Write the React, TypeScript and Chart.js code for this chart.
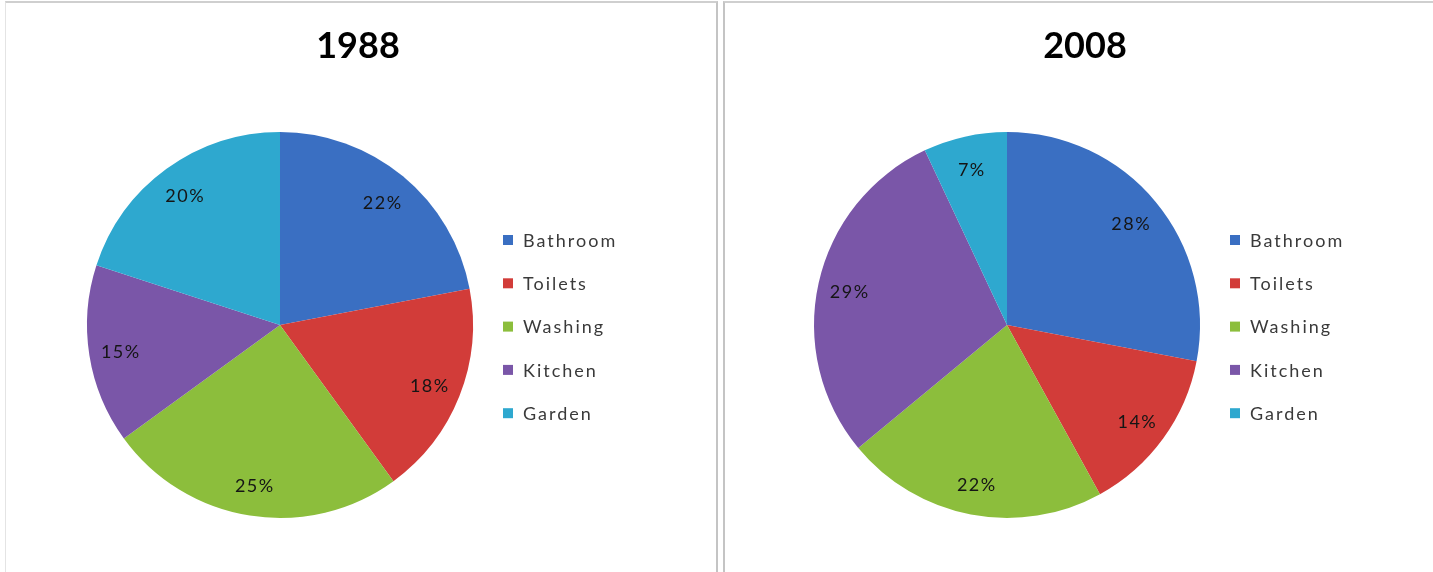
import React, { useEffect, useRef } from "react";
import { Chart, registerables } from "chart.js";

Chart.register(...registerables);

const categories = ["Bathroom", "Toilets", "Washing", "Kitchen", "Garden"];
const values1988 = [22, 18, 25, 15, 20];
const values2008 = [28, 14, 22, 29, 7];
const titles = ["1988", "2008"];
const colors = ["#3A6FC2", "#D23C39", "#8CBE3C", "#7A56A8", "#2EA8CF"];

const FONT = "Lato, 'Open Sans', sans-serif";

const overlayPlugin = {
  id: "overlay",
  afterDatasetsDraw(chart: any, _args: any, opts: any) {
    const ctx = chart.ctx;
    const meta = chart.getDatasetMeta(0);
    const data = chart.data.datasets[0].data as number[];
    ctx.save();
    // percentage labels
    ctx.font = `18px ${FONT}`;
    (ctx as any).letterSpacing = "1.5px";
    ctx.fillStyle = "#151515";
    ctx.textAlign = "center";
    ctx.textBaseline = "middle";
    meta.data.forEach((arc: any, i: number) => {
      const p = arc.getProps(["x", "y", "startAngle", "endAngle", "outerRadius"], true);
      const mid = (p.startAngle + p.endAngle) / 2;
      const r = p.outerRadius * 0.835;
      ctx.fillText(`${data[i]}%`, p.x + Math.cos(mid) * r, p.y + Math.sin(mid) * r + 2);
    });
    // title
    (ctx as any).letterSpacing = "0px";
    ctx.font = `bold 36px ${FONT}`;
    ctx.fillStyle = "#000";
    ctx.fillText(opts.title, opts.titleX, 46);
    // legend
    ctx.font = `18px ${FONT}`;
    (ctx as any).letterSpacing = "2px";
    ctx.textAlign = "left";
    const labels = chart.data.labels as string[];
    labels.forEach((lab: string, i: number) => {
      const cy = 240 + i * 43.3;
      ctx.fillStyle = colors[i];
      ctx.fillRect(opts.legendX, cy - 5, 10, 10);
      ctx.fillStyle = "#3a3a3a";
      ctx.fillText(lab, opts.legendX + 20, cy + 1);
    });
    ctx.restore();
  },
};

function PiePanel({ values, title, width }: { values: number[]; title: string; width: number }) {
  const ref = useRef<HTMLCanvasElement>(null);
  useEffect(() => {
    if (!ref.current) return;
    const chart = new Chart(ref.current, {
      type: "pie",
      data: {
        labels: categories,
        datasets: [
          {
            data: values,
            backgroundColor: colors,
            borderWidth: 0,
          },
        ],
      },
      options: {
        animation: false,
        responsive: false,
        maintainAspectRatio: false,
        layout: { padding: { left: 87, top: 132, right: width - 473, bottom: 54 } },
        plugins: {
          legend: { display: false },
          tooltip: { enabled: false },
          title: { display: false },
          overlay: { title, titleX: 358, legendX: 503 },
        } as any,
      },
      plugins: [overlayPlugin],
    });
    return () => chart.destroy();
  }, []);
  return <canvas ref={ref} width={width} height={572} style={{ display: "block", width, height: 572 }} />;
}

export default function App() {
  useEffect(() => {
    document.body.style.margin = "0";
  }, []);
  return (
    <div style={{ position: "fixed", left: 0, top: 0, width: 1433, height: 572, background: "#fff", overflow: "hidden" }}>
      <div style={{ position: "absolute", left: 0, top: 0, width: 716, height: 572 }}>
        <PiePanel values={values1988} title={titles[0]} width={716} />
      </div>
      <div style={{ position: "absolute", left: 727, top: 0, width: 706, height: 572 }}>
        <PiePanel values={values2008} title={titles[1]} width={706} />
      </div>
      {/* panel borders */}
      <div style={{ position: "absolute", left: 5, top: 1, width: 710, height: 600, borderTop: "2px solid #cfcfcf", borderLeft: "1px solid #e4e4e4", borderRight: "2px solid #c4c4c4" }} />
      <div style={{ position: "absolute", left: 723, top: 1, width: 720, height: 600, borderTop: "2px solid #cfcfcf", borderLeft: "2px solid #c4c4c4" }} />
    </div>
  );
}
